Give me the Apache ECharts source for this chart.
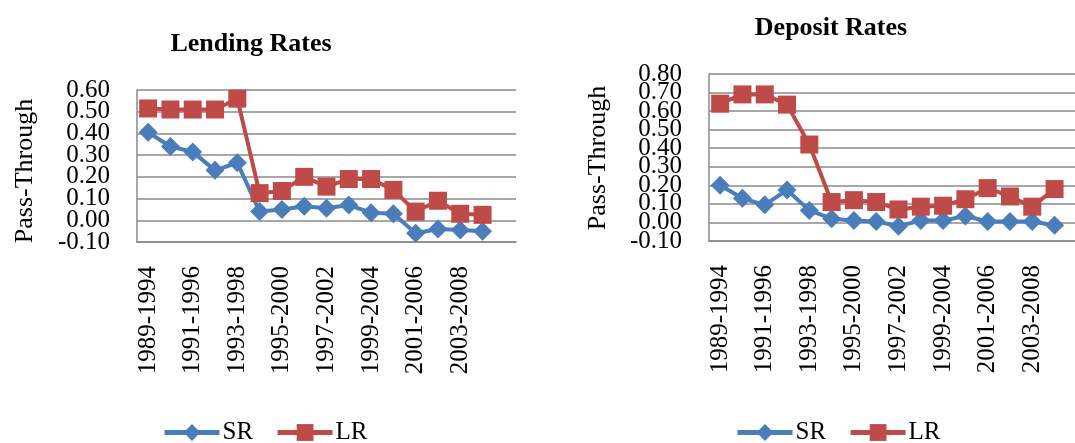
<!DOCTYPE html>
<html>
<head>
<meta charset="utf-8">
<script src="https://cdn.jsdelivr.net/npm/echarts@6/dist/echarts.min.js"></script>
<style>
  html, body { margin: 0; padding: 0; background: #fff; }
  #chart { width: 1075px; height: 443px; }
</style>
</head>
<body>
<div id="chart"></div>
<script>
// Rolling five-year windows; the trailing blank slot keeps the axis spacing.
const periods = ['1989-1994','1990-1995','1991-1996','1992-1997','1993-1998','1994-1999',
  '1995-2000','1996-2001','1997-2002','1998-2003','1999-2004','2000-2005','2001-2006',
  '2002-2007','2003-2008','2004-2009',''];

// Lending rates pass-through
const lendingSR = [0.405, 0.34, 0.315, 0.23, 0.265, 0.04, 0.05, 0.065, 0.055, 0.07, 0.035, 0.03, -0.06, -0.04, -0.045, -0.05];
const lendingLR = [0.515, 0.51, 0.51, 0.51, 0.56, 0.125, 0.135, 0.20, 0.155, 0.19, 0.19, 0.14, 0.04, 0.09, 0.03, 0.025];

// Deposit rates pass-through
const depositSR = [0.20, 0.13, 0.095, 0.175, 0.065, 0.02, 0.01, 0.005, -0.02, 0.01, 0.01, 0.035, 0.005, 0.005, 0.005, -0.015];
const depositLR = [0.64, 0.69, 0.69, 0.635, 0.42, 0.11, 0.12, 0.11, 0.07, 0.085, 0.09, 0.125, 0.185, 0.14, 0.085, 0.18];

// Value-axis ranges
const lendingRange = [-0.1, 0.6];
const depositRange = [-0.1, 0.8];
const STEP = 0.1;

const titles = ['Lending Rates', 'Deposit Rates'];
const yName = 'Pass-Through';

const FONT = "'Liberation Serif', 'Times New Roman', serif";
const BLUE = '#4a7ebb';
const RED = '#be4b48';
const GRID = '#8a8a8a';
const LABEL_SIZE = 25;

const chart = echarts.init(document.getElementById('chart'));

function xAxisFor(i) {
  return {
    type: 'category', gridIndex: i, data: periods, boundaryGap: true,
    axisLine: { onZero: false, lineStyle: { color: GRID, width: 1.5 } },
    axisTick: { show: false },
    axisLabel: { rotate: 90, interval: 1, margin: 24, color: '#000', fontFamily: FONT,
      fontSize: LABEL_SIZE, hideOverlap: false }
  };
}
// The tick labels are packed tighter than their own height, which makes the
// axis drop neighbours of the end labels. Each grid therefore carries two
// stacked value axes on the same scale: one labels the even ticks (and draws
// the line and grid), the other labels the odd ticks.
function yAxesFor(i, range) {
  const [min, max] = range;
  const last = Math.round((max - min) / STEP);
  const idx = v => Math.round((v - min) / STEP);
  const base = {
    type: 'value', gridIndex: i, min, max, interval: STEP, position: 'left', offset: 0,
    axisTick: { show: false }
  };
  const label = (parity) => ({
    margin: 27, color: '#000', fontFamily: FONT, fontSize: LABEL_SIZE, hideOverlap: false,
    showMinLabel: parity === 0,
    showMaxLabel: last % 2 === parity,
    formatter: v => (idx(v) % 2 === parity ? v.toFixed(2) : '')
  });
  return [
    Object.assign({}, base, {
      axisLine: { show: true, lineStyle: { color: GRID, width: 1.5 } },
      splitLine: { lineStyle: { color: GRID, width: 1.5 } },
      axisLabel: label(0)
    }),
    Object.assign({}, base, {
      axisLine: { show: false },
      splitLine: { show: false },
      axisLabel: label(1)
    })
  ];
}
function lineSeries(name, data, i, yIndex, color, symbol, size) {
  return {
    name, type: 'line', xAxisIndex: i, yAxisIndex: yIndex, data,
    symbol, symbolSize: size, showSymbol: true, showAllSymbol: true,
    lineStyle: { color, width: 4 }, itemStyle: { color },
    emphasis: { disabled: true }, animation: false
  };
}
function legendFor(left) {
  return {
    left, top: 420, padding: 0, itemWidth: 55, itemHeight: 21, itemGap: 22,
    data: ['SR', 'LR'],
    lineStyle: { width: 5 },
    textStyle: { fontFamily: FONT, fontSize: LABEL_SIZE, color: '#000', padding: [0, 0, 0, -2] }
  };
}
function textEl(text, x, y, size, bold, rot) {
  return {
    type: 'text', x, y, rotation: rot || 0,
    style: { text, font: (bold ? 'bold ' : '') + size + 'px ' + FONT, fill: '#000',
      align: 'center', verticalAlign: 'middle', textAlign: 'center', textVerticalAlign: 'middle' }
  };
}

chart.setOption({
  animation: false,
  grid: [
    { left: 137, top: 90, width: 379, height: 152, outerBoundsMode: 'none' },
    { left: 709, top: 74, width: 379, height: 167, outerBoundsMode: 'none' }
  ],
  xAxis: [xAxisFor(0), xAxisFor(1)],
  yAxis: [...yAxesFor(0, lendingRange), ...yAxesFor(1, depositRange)],
  legend: [legendFor(162), legendFor(735)],
  series: [
    lineSeries('SR', lendingSR, 0, 0, BLUE, 'diamond', 19),
    lineSeries('LR', lendingLR, 0, 0, RED, 'rect', 18),
    lineSeries('SR', depositSR, 1, 2, BLUE, 'diamond', 19),
    lineSeries('LR', depositLR, 1, 2, RED, 'rect', 18)
  ],
  graphic: [
    textEl(titles[0], 251, 44, 26, true),
    textEl(titles[1], 831, 28, 26, true),
    textEl(yName, 25, 171, 26, false, Math.PI / 2),
    textEl(yName, 598, 158, 26, false, Math.PI / 2)
  ]
});
</script>
</body>
</html>
